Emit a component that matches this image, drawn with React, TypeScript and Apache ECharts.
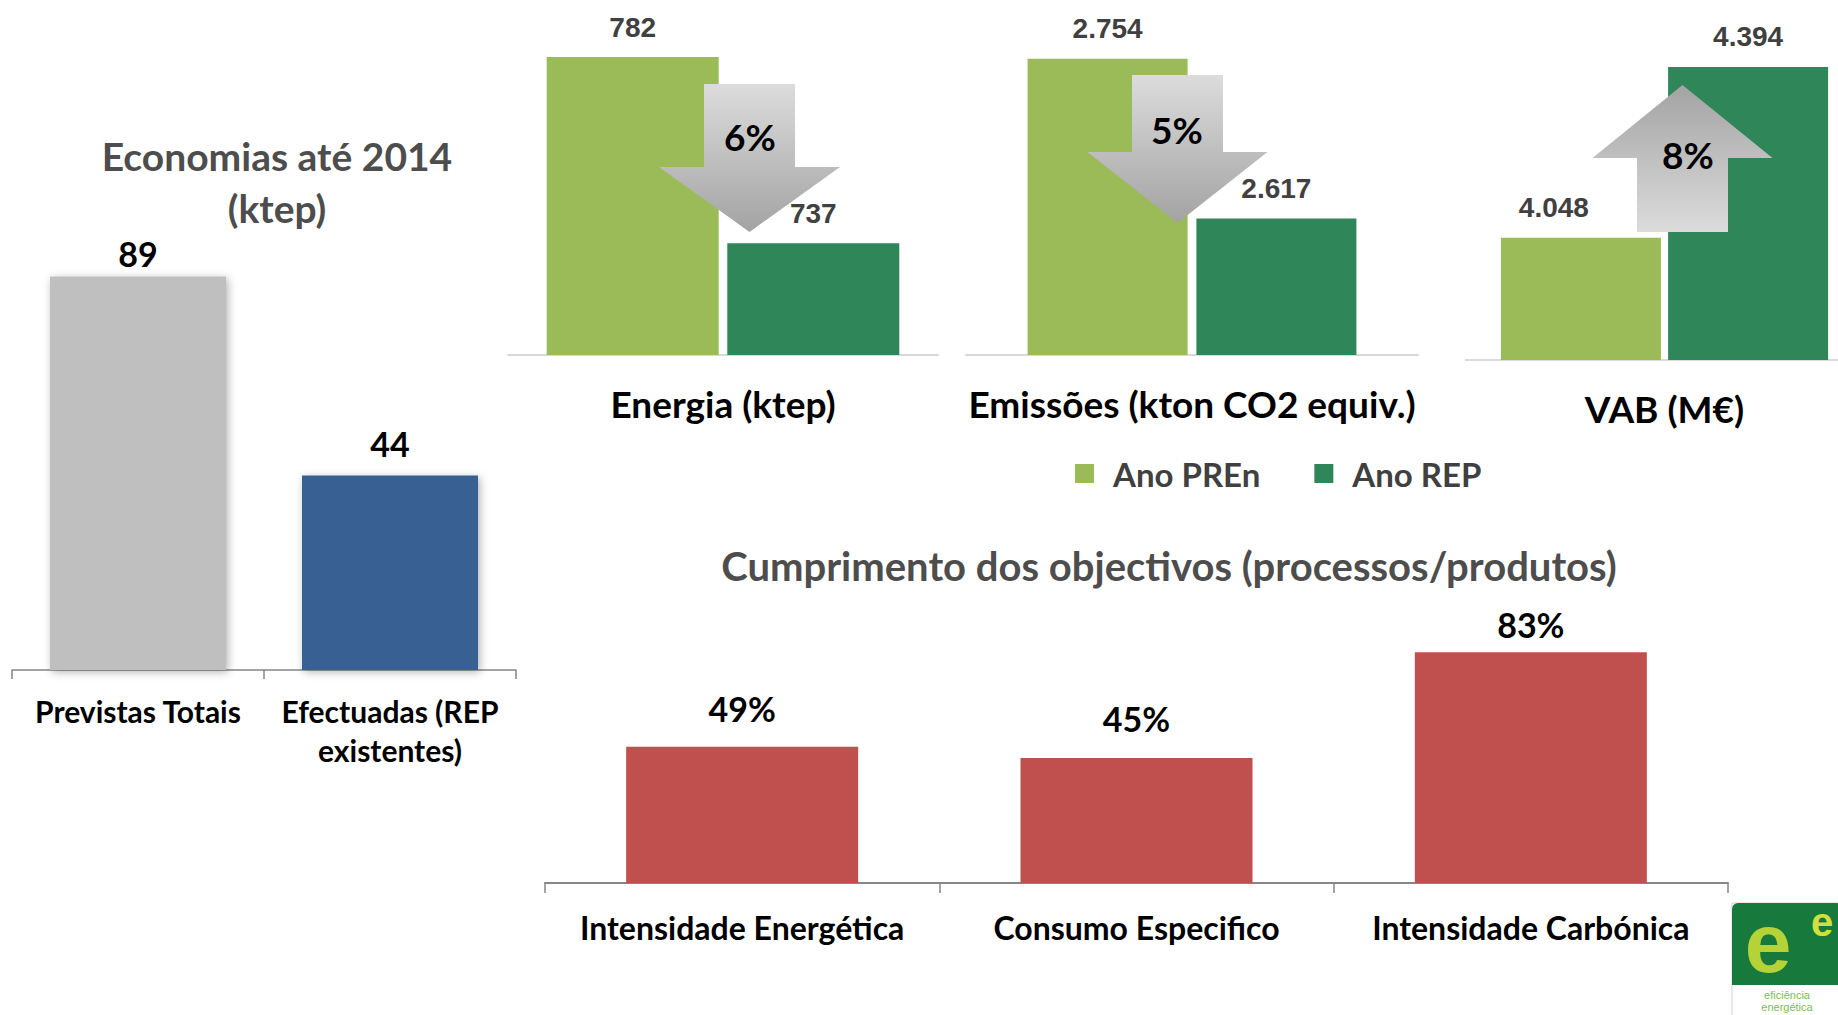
import React, { useEffect, useRef } from "react";
import * as echarts from "echarts";

// ---- Data ----
const savingsCategories = ["Previstas Totais", "Efectuadas (REP\nexistentes)"];
const savingsValues = [89, 44];

const kpiCategories = ["Energia (ktep)", "Emissões (kton CO2 equiv.)", "VAB (M€)"];
const seriesNames = ["Ano PREn", "Ano REP"];
const anoPREn = [782, 2754, 4048];
const anoREP = [737, 2617, 4394];
const changeLabels = ["6%", "5%", "8%"];
const kpiAxisMin = [710, 2500, 3800];
const kpiAxisMax = [790, 2800, 4400];

const goalCategories = ["Intensidade Energética", "Consumo Especifico", "Intensidade Carbónica"];
const goalValues = [49, 45, 83];

// ---- Styles ----
const FONT = "Lato";
const NUMFONT = "Liberation Sans";
const savingsColors = ["#BFBFBF", "#376092"];
const savingsLabelGap = [6, 15];
const goalLabelGap = [21, 22, 11];
const prenLabelShift = [0, 0, -27];
const kpiGrids = [
  { left: 508, top: 24, width: 430, height: 331, barWidth: 172, barGap: "5%" },
  { left: 966, top: 5, width: 452, height: 350, barWidth: 160, barGap: "5.5%" },
  { left: 1491, top: 64, width: 347, height: 296, barWidth: 160, barGap: "4.5%" },
];
const fmtThousands = (n: number) => String(n).replace(/\B(?=(\d{3})+(?!\d))/g, ".");

const downGrad = {
  type: "linear", x: 0, y: 0, x2: 0, y2: 1,
  colorStops: [{ offset: 0, color: "#DCDCDC" }, { offset: 1, color: "#A3A3A3" }],
};
const upGrad = {
  type: "linear", x: 0, y: 0, x2: 0, y2: 1,
  colorStops: [{ offset: 0, color: "#A3A3A3" }, { offset: 1, color: "#DCDCDC" }],
};

function arrow(cx: number, base: number, headY: number, tipY: number, shaftHalf: number, headHalf: number) {
  return [
    [cx - shaftHalf, base], [cx + shaftHalf, base], [cx + shaftHalf, headY], [cx + headHalf, headY],
    [cx, tipY], [cx - headHalf, headY], [cx - shaftHalf, headY],
  ];
}

export default function App() {
  const ref = useRef<HTMLDivElement>(null);
  useEffect(() => {
    if (!ref.current) return;
    const chart = echarts.init(ref.current, null, { renderer: "svg" });

    const grids: any[] = [
      { left: 12, top: 228, width: 504, height: 442 },
      ...kpiGrids.map((g) => ({ left: g.left, top: g.top, width: g.width, height: g.height })),
      { left: 545, top: 605, width: 1183, height: 278 },
    ];

    const xAxes: any[] = [
      {
        type: "category", gridIndex: 0, data: savingsCategories,
        axisLine: { lineStyle: { color: "#868686", width: 1.5 } },
        axisTick: { show: true, length: 9, lineStyle: { color: "#868686", width: 1.5 } },
        axisLabel: { interval: 0, margin: 21, fontFamily: FONT, fontWeight: "bold", fontSize: 30, lineHeight: 39, color: "#000" },
      },
      ...kpiCategories.map((c, i) => ({
        type: "category", gridIndex: i + 1, data: [c],
        axisLine: { lineStyle: { color: "#D9D9D9", width: 2 } },
        axisTick: { show: false },
        axisLabel: { interval: 0, margin: 30, fontFamily: FONT, fontWeight: "bold", fontSize: 37, color: "#000" },
      })),
      {
        type: "category", gridIndex: 4, data: goalCategories,
        axisLine: { lineStyle: { color: "#868686", width: 2 } },
        axisTick: { show: true, length: 10, lineStyle: { color: "#868686", width: 1.5 } },
        axisLabel: { interval: 0, margin: 28, fontFamily: FONT, fontWeight: "bold", fontSize: 32, color: "#000" },
      },
    ];

    const hiddenY = { show: false, splitLine: { show: false } };
    const yAxes: any[] = [
      { type: "value", gridIndex: 0, min: 0, max: 100, ...hiddenY },
      ...kpiCategories.map((_, i) => ({ type: "value", gridIndex: i + 1, min: kpiAxisMin[i], max: kpiAxisMax[i], ...hiddenY })),
      { type: "value", gridIndex: 4, min: 0, max: 100, ...hiddenY },
    ];

    const series: any[] = [
      {
        type: "bar", name: "Economias", xAxisIndex: 0, yAxisIndex: 0, barWidth: 176,
        data: savingsValues.map((v, i) => ({
          value: v,
          itemStyle: { color: savingsColors[i] },
          label: { distance: savingsLabelGap[i] },
        })),
        itemStyle: { shadowBlur: 8, shadowColor: "rgba(0,0,0,0.3)", shadowOffsetX: 2, shadowOffsetY: 2 },
        label: { show: true, position: "top", fontFamily: FONT, fontWeight: "bold", fontSize: 34, color: "#000" },
      },
    ];
    kpiCategories.forEach((_, i) => {
      [anoPREn, anoREP].forEach((arr, s) => {
        series.push({
          type: "bar", name: seriesNames[s], xAxisIndex: i + 1, yAxisIndex: i + 1,
          barWidth: kpiGrids[i].barWidth, barGap: kpiGrids[i].barGap,
          data: [{ value: arr[i], label: { offset: [s === 0 ? prenLabelShift[i] : 0, 0] } }],
          itemStyle: { color: s === 0 ? "#9BBB59" : "#2E8659" },
          label: {
            show: true, position: "top", distance: 16,
            fontFamily: NUMFONT, fontWeight: "bold", fontSize: 28, color: "#404040",
            formatter: (p: any) => fmtThousands(p.value),
          },
        });
      });
    });
    series.push({
      type: "bar", name: "Cumprimento", xAxisIndex: 4, yAxisIndex: 4, barWidth: 232,
      data: goalValues.map((v, i) => ({ value: v, label: { distance: goalLabelGap[i] } })),
      itemStyle: { color: "#C0504D" },
      label: {
        show: true, position: "top", fontFamily: FONT, fontWeight: "bold", fontSize: 34, color: "#000",
        formatter: (p: any) => p.value + "%",
      },
    });

    const pctStyle = (t: string) => ({ text: t, font: `bold 37px ${FONT}`, fill: "#000", align: "center", verticalAlign: "middle" });

    const graphic: any[] = [
      { type: "line", z: 5, shape: { x1: 1465, y1: 360, x2: 1492, y2: 360 }, style: { stroke: "#D9D9D9", lineWidth: 2 } },
      { type: "polygon", z: 50, shape: { points: arrow(749.5, 84, 167, 232, 45.5, 90.5) }, style: { fill: downGrad } },
      { type: "polygon", z: 50, shape: { points: arrow(1177.5, 75, 152, 223, 45.5, 90) }, style: { fill: downGrad } },
      { type: "polygon", z: 50, shape: { points: arrow(1682.5, 232, 158, 85, 45.5, 90) }, style: { fill: upGrad } },
      { type: "text", z: 60, x: 750, y: 136, style: pctStyle(changeLabels[0]) },
      { type: "text", z: 60, x: 1177, y: 129, style: pctStyle(changeLabels[1]) },
      { type: "text", z: 60, x: 1688, y: 154, style: pctStyle(changeLabels[2]) },
      {
        type: "group", x: 1732, y: 903, z: 60,
        children: [
          { type: "rect", shape: { x: 0, y: 0, width: 110, height: 115 }, style: { fill: "#fff", stroke: "#d0d0d0", lineWidth: 1 } },
          { type: "rect", shape: { x: 0, y: 0, width: 110, height: 82, r: [6, 6, 0, 0] }, style: { fill: "#17793B" } },
          {
            type: "text", x: 36, y: 40,
            style: { text: "e", font: `bold 84px ${NUMFONT}`, align: "center", verticalAlign: "middle", fill: "#B5D336" },
          },
          {
            type: "text", x: 90, y: 19,
            style: { text: "e", font: `bold 40px ${NUMFONT}`, align: "center", verticalAlign: "middle", fill: "#D2E03C" },
          },
          { type: "text", x: 55, y: 92, style: { text: "eficiência", font: `11px ${NUMFONT}`, fill: "#7CC04A", align: "center", verticalAlign: "middle" } },
          { type: "text", x: 55, y: 104, style: { text: "energética", font: `11px ${NUMFONT}`, fill: "#7CC04A", align: "center", verticalAlign: "middle" } },
        ],
      },
    ];

    chart.setOption({
      animation: false,
      backgroundColor: "#fff",
      title: [
        {
          text: "Economias até 2014\n(ktep)", left: 272, top: 125, textAlign: "center",
          textStyle: { fontFamily: FONT, fontWeight: "bold", fontSize: 39, lineHeight: 52, color: "#4D4D4D" },
        },
        {
          text: "Cumprimento dos objectivos (processos/produtos)", left: 1164, top: 541, textAlign: "center",
          textStyle: { fontFamily: FONT, fontWeight: "bold", fontSize: 40, color: "#4D4D4D" },
        },
      ],
      legend: {
        data: seriesNames, left: 1070, top: 452, icon: "rect", itemWidth: 19, itemHeight: 19, itemGap: 54,
        selectedMode: false,
        textStyle: { fontFamily: FONT, fontWeight: "bold", fontSize: 33, color: "#404040", padding: [0, 0, 0, 14] },
      },
      grid: grids,
      xAxis: xAxes,
      yAxis: yAxes,
      series,
      graphic,
    });
    return () => chart.dispose();
  }, []);
  return <div ref={ref} style={{ position: "fixed", left: 0, top: 0, width: 1838, height: 1015 }} />;
}
